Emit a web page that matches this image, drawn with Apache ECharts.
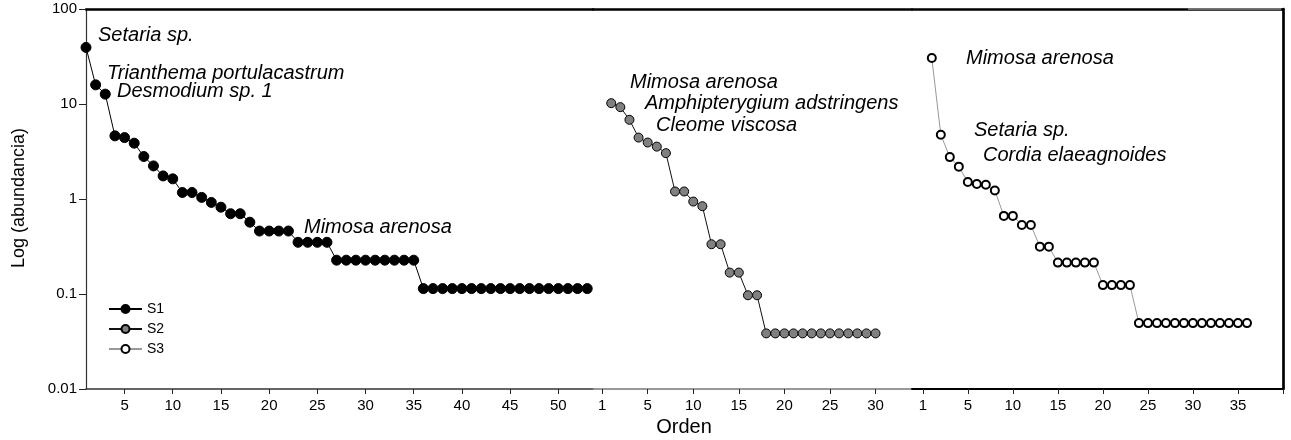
<!DOCTYPE html>
<html>
<head>
<meta charset="utf-8">
<script src="https://cdn.jsdelivr.net/npm/echarts@6/dist/echarts.min.js"></script>
<style>
html,body{margin:0;padding:0;background:#fff;}
#chart{width:1291px;height:440px;}
</style>
</head>
<body>
<div id="chart"></div>
<script>
// ---- data ----
var s1Values = [39.4, 15.9, 12.7, 4.62, 4.43, 3.87, 2.80, 2.23, 1.75, 1.63,
  1.17, 1.17, 1.04, 0.92, 0.82, 0.70, 0.70, 0.57,
  0.46, 0.46, 0.46, 0.46,
  0.35, 0.35, 0.35, 0.35,
  0.227, 0.227, 0.227, 0.227, 0.227, 0.227, 0.227, 0.227, 0.227,
  0.114, 0.114, 0.114, 0.114, 0.114, 0.114, 0.114, 0.114, 0.114,
  0.114, 0.114, 0.114, 0.114, 0.114, 0.114, 0.114, 0.114, 0.114];
var s2Values = [10.2, 9.27, 6.82, 4.43, 3.93, 3.56, 3.04, 1.20, 1.20, 0.94,
  0.84, 0.334, 0.334, 0.168, 0.168, 0.097, 0.097,
  0.0385, 0.0385, 0.0385, 0.0385, 0.0385, 0.0385, 0.0385, 0.0385, 0.0385,
  0.0385, 0.0385, 0.0385, 0.0385];
var s3Values = [30.5, 4.74, 2.76, 2.19, 1.51, 1.44, 1.41, 1.23,
  0.664, 0.664, 0.533, 0.533, 0.315, 0.315,
  0.214, 0.214, 0.214, 0.214, 0.214,
  0.124, 0.124, 0.124, 0.124,
  0.0494, 0.0494, 0.0494, 0.0494, 0.0494, 0.0494, 0.0494, 0.0494, 0.0494,
  0.0494, 0.0494, 0.0494, 0.0494];

var yTickValues = [0.01, 0.1, 1, 10, 100];
var yTickLabels = ['0.01', '0.1', '1', '10', '100'];

var s1TickValues = [5, 10, 15, 20, 25, 30, 35, 40, 45, 50];
var s1TickLabels = ['5', '10', '15', '20', '25', '30', '35', '40', '45', '50'];
var s2TickValues = [0, 5, 10, 15, 20, 25, 30];
var s2TickLabels = ['1', '5', '10', '15', '20', '25', '30'];
var s3TickValues = [0, 5, 10, 15, 20, 25, 30, 35];
var s3TickLabels = ['1', '5', '10', '15', '20', '25', '30', '35'];
var s3ExtraTicks = [40];

var seriesNames = ['S1', 'S2', 'S3'];

// species annotations: [text, left x, middle y] (layout only)
var annotations = [
  ['Setaria sp.', 98, 35],
  ['Trianthema portulacastrum', 107, 73.5],
  ['Desmodium sp. 1', 117, 91.5],
  ['Mimosa arenosa', 304, 227],
  ['Mimosa arenosa', 630, 82],
  ['Amphipterygium adstringens', 645, 103.5],
  ['Cleome viscosa', 656, 125],
  ['Mimosa arenosa', 966, 58],
  ['Setaria sp.', 974, 130],
  ['Cordia elaeagnoides', 983, 155]
];

// ---- build ----
function toPairs(arr) { return arr.map(function (v, i) { return [i + 1, v]; }); }
function labelFor(values, labels) {
  return function (v) {
    for (var i = 0; i < values.length; i++) {
      if (Math.abs(values[i] - v) < 1e-9) return labels[i];
    }
    return '';
  };
}
function yLabel(v) {
  for (var i = 0; i < yTickValues.length; i++) {
    if (Math.abs(Math.log10(yTickValues[i]) - Math.log10(v)) < 1e-6) return yTickLabels[i];
  }
  return '';
}

var FONT = '"Liberation Sans", Arial, Helvetica, sans-serif';
var grids = [
  { left: 86, top: 9, width: 507, height: 380 },
  { left: 593, top: 9, width: 319, height: 380 },
  { left: 912, top: 9, width: 371, height: 380 }
];

function bottomAxis(gi, min, max, tickVals, tickLabs, extraTicks, color, width) {
  return {
    type: 'value', gridIndex: gi, position: 'bottom', min: min, max: max,
    splitLine: { show: false },
    axisLine: { show: true, onZero: false, lineStyle: { color: color, width: width } },
    axisTick: { show: true, inside: false, length: 5, customValues: tickVals.concat(extraTicks || []),
      lineStyle: { color: '#222', width: 1 } },
    axisLabel: { show: true, customValues: tickVals, formatter: labelFor(tickVals, tickLabs),
      color: '#000', fontSize: 15, fontFamily: FONT, margin: 9 }
  };
}
function topAxis(gi, min, max) {
  return {
    type: 'value', gridIndex: gi, position: 'top', min: min, max: max,
    splitLine: { show: false },
    axisLine: { show: true, onZero: false, lineStyle: { color: '#000', width: 2.5 } },
    axisTick: { show: false }, axisLabel: { show: false }
  };
}
function logAxis(gi, show) {
  return {
    type: 'log', logBase: 10, gridIndex: gi, min: 0.01, max: 100,
    show: show, position: 'left',
    splitLine: { show: false },
    axisLine: { show: true, onZero: false, lineStyle: { color: '#333', width: 1.2 } },
    axisTick: { show: true, inside: false, length: 7, lineStyle: { color: '#222', width: 1 } },
    axisLabel: { formatter: yLabel, color: '#000', fontSize: 15, fontFamily: FONT, margin: 9 }
  };
}

var option = {
  backgroundColor: '#fff',
  animation: false,
  grid: grids,
  xAxis: [
    bottomAxis(0, 1, 53.6, s1TickValues, s1TickLabels, [], '#333', 1.5),
    bottomAxis(1, -1, 34, s2TickValues, s2TickLabels, [], '#777', 1.5),
    bottomAxis(2, -1.2, 40, s3TickValues, s3TickLabels, s3ExtraTicks, '#000', 2),
    topAxis(0, 1, 53.6),
    topAxis(1, -1, 34),
    topAxis(2, -1.2, 40)
  ],
  yAxis: [
    logAxis(0, true),
    logAxis(1, false),
    logAxis(2, false),
    {
      type: 'log', logBase: 10, gridIndex: 2, position: 'right', min: 0.01, max: 100,
      splitLine: { show: false },
      axisLine: { show: true, onZero: false, lineStyle: { color: '#000', width: 2.7 } },
      axisTick: { show: false }, axisLabel: { show: false }
    }
  ],
  legend: {
    data: seriesNames,
    orient: 'vertical',
    left: 103, top: 297,
    itemWidth: 33, itemHeight: 10, itemGap: 6,
    textStyle: { color: '#000', fontSize: 14, fontFamily: FONT }
  },
  series: [
    {
      name: seriesNames[0], type: 'line', xAxisIndex: 0, yAxisIndex: 0, clip: false,
      data: toPairs(s1Values), symbol: 'circle', symbolSize: 10, showAllSymbol: true,
      lineStyle: { color: '#000', width: 1 },
      itemStyle: { color: '#000', borderColor: '#000', borderWidth: 1 }
    },
    {
      name: seriesNames[1], type: 'line', xAxisIndex: 1, yAxisIndex: 1, clip: false,
      data: toPairs(s2Values), symbol: 'circle', symbolSize: 9, showAllSymbol: true,
      lineStyle: { color: '#111', width: 1 },
      itemStyle: { color: '#808080', borderColor: '#000', borderWidth: 1 }
    },
    {
      name: seriesNames[2], type: 'line', xAxisIndex: 2, yAxisIndex: 2, clip: false,
      data: toPairs(s3Values), symbol: 'circle', symbolSize: 8, showAllSymbol: true,
      lineStyle: { color: '#999', width: 1 },
      itemStyle: { color: '#fff', borderColor: '#000', borderWidth: 2 }
    }
  ],
  graphic: annotations.map(function (a) {
    return {
      type: 'text', x: a[1], y: a[2], silent: true,
      style: { text: a[0], fill: '#000', font: 'italic 20px ' + FONT, textAlign: 'left', textVerticalAlign: 'middle' }
    };
  }).concat([
    {
      type: 'text', x: 19, y: 198, rotation: Math.PI / 2, silent: true,
      style: { text: 'Log (abundancia)', fill: '#000', font: '18px ' + FONT, textAlign: 'center', textVerticalAlign: 'middle' }
    },
    {
      type: 'text', x: 684, y: 427, silent: true,
      style: { text: 'Orden', fill: '#000', font: '20px ' + FONT, textAlign: 'center', textVerticalAlign: 'middle' }
    },
    {
      type: 'line', silent: true, z: 100,
      shape: { x1: 1188, y1: 9, x2: 1281, y2: 9 },
      style: { stroke: '#888', lineWidth: 1.5 }
    }
  ])
};

var chart = echarts.init(document.getElementById('chart'), null, { renderer: 'canvas' });
chart.setOption(option);
</script>
</body>
</html>
